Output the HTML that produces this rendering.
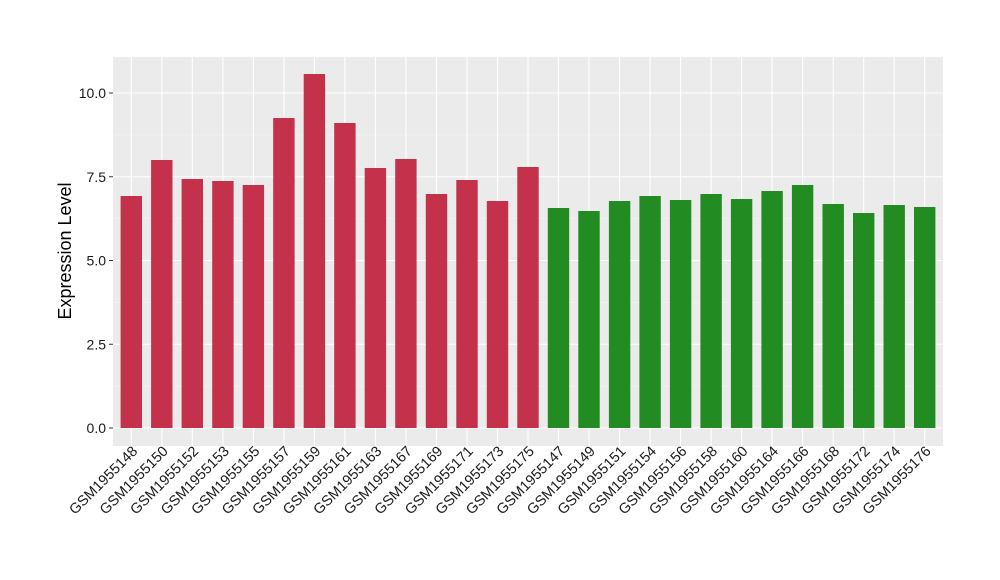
<!DOCTYPE html>
<html><head><meta charset="utf-8"><style>body{margin:0;background:#fff}svg{display:block}text{font-family:"Liberation Sans",sans-serif}</style></head>
<body>
<svg width="1000" height="580" viewBox="0 0 1000 580" xmlns="http://www.w3.org/2000/svg">
<rect x="113" y="57" width="830" height="389" fill="#EBEBEB"/>
<g stroke="#F5F5F5" stroke-width="0.6">
<line x1="113" x2="943" y1="386.1" y2="386.1"/><line x1="113" x2="943" y1="302.4" y2="302.4"/><line x1="113" x2="943" y1="218.6" y2="218.6"/><line x1="113" x2="943" y1="134.9" y2="134.9"/>
</g>
<g stroke="#fff" stroke-width="1.1">
<line x1="113" x2="943" y1="428" y2="428"/><line x1="113" x2="943" y1="344.25" y2="344.25"/><line x1="113" x2="943" y1="260.5" y2="260.5"/><line x1="113" x2="943" y1="176.75" y2="176.75"/><line x1="113" x2="943" y1="93" y2="93"/>
<line x1="131.3" x2="131.3" y1="57" y2="446"/><line x1="161.8" x2="161.8" y1="57" y2="446"/><line x1="192.3" x2="192.3" y1="57" y2="446"/><line x1="222.9" x2="222.9" y1="57" y2="446"/><line x1="253.4" x2="253.4" y1="57" y2="446"/><line x1="283.9" x2="283.9" y1="57" y2="446"/><line x1="314.4" x2="314.4" y1="57" y2="446"/><line x1="344.9" x2="344.9" y1="57" y2="446"/><line x1="375.4" x2="375.4" y1="57" y2="446"/><line x1="405.9" x2="405.9" y1="57" y2="446"/><line x1="436.5" x2="436.5" y1="57" y2="446"/><line x1="467" x2="467" y1="57" y2="446"/><line x1="497.5" x2="497.5" y1="57" y2="446"/><line x1="528" x2="528" y1="57" y2="446"/><line x1="558.5" x2="558.5" y1="57" y2="446"/><line x1="589" x2="589" y1="57" y2="446"/><line x1="619.6" x2="619.6" y1="57" y2="446"/><line x1="650.1" x2="650.1" y1="57" y2="446"/><line x1="680.6" x2="680.6" y1="57" y2="446"/><line x1="711.1" x2="711.1" y1="57" y2="446"/><line x1="741.6" x2="741.6" y1="57" y2="446"/><line x1="772.1" x2="772.1" y1="57" y2="446"/><line x1="802.6" x2="802.6" y1="57" y2="446"/><line x1="833.2" x2="833.2" y1="57" y2="446"/><line x1="863.7" x2="863.7" y1="57" y2="446"/><line x1="894.2" x2="894.2" y1="57" y2="446"/><line x1="924.7" x2="924.7" y1="57" y2="446"/>
</g>
<g fill="#C3314A">
<rect x="120.6" y="196" width="21.4" height="232"/><rect x="151.1" y="160" width="21.4" height="268"/><rect x="181.6" y="179" width="21.4" height="249"/><rect x="212.2" y="181" width="21.4" height="247"/><rect x="242.7" y="185" width="21.4" height="243"/><rect x="273.2" y="118" width="21.4" height="310"/><rect x="303.7" y="74" width="21.4" height="354"/><rect x="334.2" y="123" width="21.4" height="305"/><rect x="364.7" y="168" width="21.4" height="260"/><rect x="395.2" y="159" width="21.4" height="269"/><rect x="425.8" y="194" width="21.4" height="234"/><rect x="456.3" y="180" width="21.4" height="248"/><rect x="486.8" y="201" width="21.4" height="227"/><rect x="517.3" y="167" width="21.4" height="261"/>
</g>
<g fill="#228B22">
<rect x="547.8" y="208" width="21.4" height="220"/><rect x="578.3" y="211" width="21.4" height="217"/><rect x="608.9" y="201" width="21.4" height="227"/><rect x="639.4" y="196" width="21.4" height="232"/><rect x="669.9" y="200" width="21.4" height="228"/><rect x="700.4" y="194" width="21.4" height="234"/><rect x="730.9" y="199" width="21.4" height="229"/><rect x="761.4" y="191" width="21.4" height="237"/><rect x="791.9" y="185" width="21.4" height="243"/><rect x="822.5" y="204" width="21.4" height="224"/><rect x="853" y="213" width="21.4" height="215"/><rect x="883.5" y="205" width="21.4" height="223"/><rect x="914" y="207" width="21.4" height="221"/>
</g>
<g stroke="#333" stroke-width="1">
<line x1="109" x2="113" y1="428" y2="428"/><line x1="109" x2="113" y1="344.25" y2="344.25"/><line x1="109" x2="113" y1="260.5" y2="260.5"/><line x1="109" x2="113" y1="176.75" y2="176.75"/><line x1="109" x2="113" y1="93" y2="93"/>
</g>
<g font-size="14" fill="#1a1a1a" text-anchor="end">
<text x="106" y="433">0.0</text><text x="106" y="349.25">2.5</text><text x="106" y="265.5">5.0</text><text x="106" y="181.75">7.5</text><text x="106" y="98">10.0</text>
</g>
<g font-size="14.5" fill="#1a1a1a" text-anchor="end">
<text transform="translate(138.3,452) rotate(-45)">GSM1955148</text>
<text transform="translate(168.8,452) rotate(-45)">GSM1955150</text>
<text transform="translate(199.3,452) rotate(-45)">GSM1955152</text>
<text transform="translate(229.9,452) rotate(-45)">GSM1955153</text>
<text transform="translate(260.4,452) rotate(-45)">GSM1955155</text>
<text transform="translate(290.9,452) rotate(-45)">GSM1955157</text>
<text transform="translate(321.4,452) rotate(-45)">GSM1955159</text>
<text transform="translate(351.9,452) rotate(-45)">GSM1955161</text>
<text transform="translate(382.4,452) rotate(-45)">GSM1955163</text>
<text transform="translate(412.9,452) rotate(-45)">GSM1955167</text>
<text transform="translate(443.5,452) rotate(-45)">GSM1955169</text>
<text transform="translate(474,452) rotate(-45)">GSM1955171</text>
<text transform="translate(504.5,452) rotate(-45)">GSM1955173</text>
<text transform="translate(535,452) rotate(-45)">GSM1955175</text>
<text transform="translate(565.5,452) rotate(-45)">GSM1955147</text>
<text transform="translate(596,452) rotate(-45)">GSM1955149</text>
<text transform="translate(626.6,452) rotate(-45)">GSM1955151</text>
<text transform="translate(657.1,452) rotate(-45)">GSM1955154</text>
<text transform="translate(687.6,452) rotate(-45)">GSM1955156</text>
<text transform="translate(718.1,452) rotate(-45)">GSM1955158</text>
<text transform="translate(748.6,452) rotate(-45)">GSM1955160</text>
<text transform="translate(779.1,452) rotate(-45)">GSM1955164</text>
<text transform="translate(809.6,452) rotate(-45)">GSM1955166</text>
<text transform="translate(840.2,452) rotate(-45)">GSM1955168</text>
<text transform="translate(870.7,452) rotate(-45)">GSM1955172</text>
<text transform="translate(901.2,452) rotate(-45)">GSM1955174</text>
<text transform="translate(931.7,452) rotate(-45)">GSM1955176</text>
</g>
<text transform="translate(71,251) rotate(-90)" font-size="18" text-anchor="middle" fill="#000">Expression Level</text>
</svg>
</body></html>
